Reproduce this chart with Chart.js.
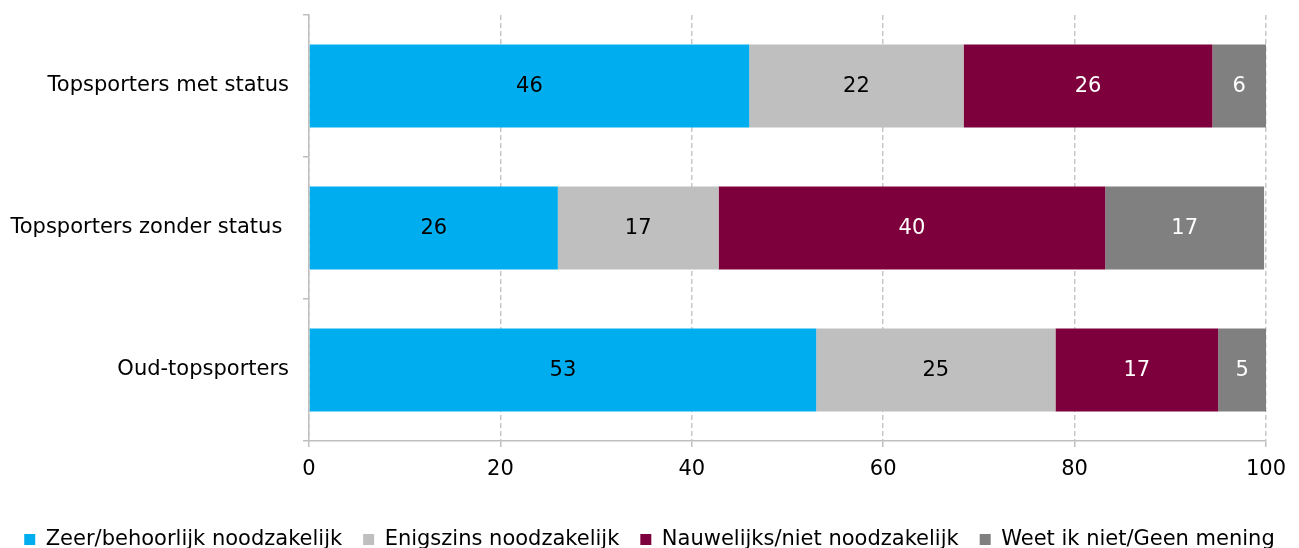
<!DOCTYPE html>
<html>
<head>
<meta charset="utf-8">
<script src="https://cdn.jsdelivr.net/npm/chart.js@4/dist/chart.umd.min.js"></script>
<style>
html,body{margin:0;padding:0;background:#fff;overflow:hidden;}
#wrap{width:1299px;height:560px;}
</style>
</head>
<body>
<div id="wrap"><canvas id="c" width="1299" height="560" style="width:1299px;height:560px"></canvas></div>
<script>
const categories = ['Topsporters met status', 'Topsporters zonder status ', 'Oud-topsporters'];
const seriesNames = ['Zeer/behoorlijk noodzakelijk', 'Enigszins noodzakelijk', 'Nauwelijks/niet noodzakelijk', 'Weet ik niet/Geen mening'];
const zeerBehoorlijk = [46.0, 26.0, 53.0];
const enigszins = [22.4, 16.8, 25.0];
const nauwelijksNiet = [26.0, 40.4, 17.0];
const weetNiet = [5.6, 16.6, 5.0];
const xTicks = [0, 20, 40, 60, 80, 100];

const colors = ['#00AEEF', '#BFBFBF', '#7D003C', '#808080'];
const labelColors = ['#000000', '#000000', '#FFFFFF', '#FFFFFF'];
const FONT = 'DejaVu Sans';
const FS = 21;

const valueLabels = {
  id: 'valueLabels',
  afterDatasetsDraw(chart) {
    const ctx = chart.ctx;
    ctx.save();
    ctx.font = FS + 'px "' + FONT + '"';
    ctx.textAlign = 'center';
    ctx.textBaseline = 'middle';
    chart.data.datasets.forEach((ds, i) => {
      const meta = chart.getDatasetMeta(i);
      meta.data.forEach((el, j) => {
        const p = el.getCenterPoint();
        ctx.fillStyle = labelColors[i];
        ctx.fillText(String(Math.round(ds.data[j])), p.x, p.y + 1);
      });
    });
    ctx.restore();
  }
};

const seriesData = [zeerBehoorlijk, enigszins, nauwelijksNiet, weetNiet];

new Chart(document.getElementById('c'), {
  type: 'bar',
  data: {
    labels: categories,
    datasets: seriesNames.map((n, i) => ({
      label: n,
      data: seriesData[i],
      backgroundColor: colors[i],
      borderWidth: 0,
      barPercentage: 1,
      categoryPercentage: 0.585
    }))
  },
  options: {
    indexAxis: 'y',
    responsive: false,
    animation: false,
    devicePixelRatio: 1,
    layout: { padding: { top: 15, right: 0, left: 0, bottom: 0 } },
    plugins: {
      tooltip: { enabled: false },
      legend: {
        position: 'bottom',
        labels: {
          boxWidth: 11,
          boxHeight: 11,
          padding: 21,
          color: '#000',
          font: { family: FONT, size: FS }
        }
      }
    },
    scales: {
      x: {
        stacked: true,
        min: 0,
        max: 100,
        afterBuildTicks(scale) { scale.ticks = xTicks.map(v => ({ value: v })); },
        afterFit(scale) { scale.height = 67; scale.paddingRight = 33; scale.paddingLeft = 0; },
        ticks: { color: '#000', font: { family: FONT, size: FS }, padding: 10, maxRotation: 0 },
        grid: {
          color: '#C8C8C8',
          lineWidth: 1.5,
          drawTicks: true,
          tickLength: 6,
          tickColor: '#BFBFBF',
          tickBorderDash: []
        },
        border: { display: true, color: '#BFBFBF', width: 1.5, dash: [5, 3] }
      },
      y: {
        stacked: true,
        afterFit(scale) { scale.width = 309; scale.paddingTop = 0; scale.paddingBottom = 0; },
        ticks: { color: '#000', font: { family: FONT, size: FS }, padding: 14 },
        grid: {
          offset: true,
          drawOnChartArea: false,
          drawTicks: true,
          tickLength: 6,
          tickColor: '#BFBFBF',
          lineWidth: 1.5
        },
        border: { display: true, color: '#BFBFBF', width: 1.5 }
      }
    }
  },
  plugins: [valueLabels]
});
</script>
</body>
</html>
